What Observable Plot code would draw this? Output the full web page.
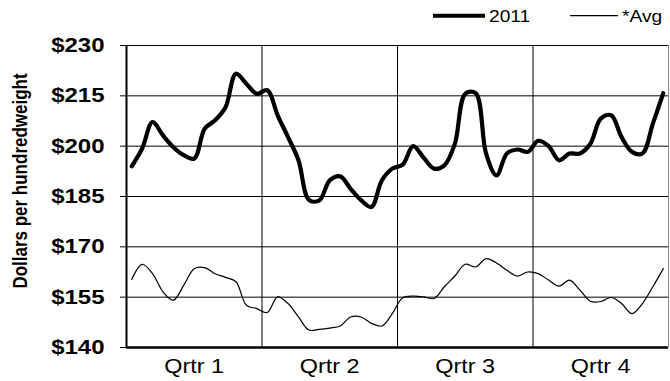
<!DOCTYPE html>
<html>
<head>
<meta charset="utf-8">
<script src="https://cdn.jsdelivr.net/npm/d3@7"></script>
<script src="https://cdn.jsdelivr.net/npm/@observablehq/plot@0.6"></script>
<style>
  html, body { margin: 0; padding: 0; background: #fff; }
  svg { display: block; }
  #chart { width: 670px; }
</style>
</head>
<body>
<div id="chart"></div>
<script>
// ---- data ----
const quarters = ["Qrtr 1", "Qrtr 2", "Qrtr 3", "Qrtr 4"];
const weeksPerQuarter = 13;
const yTicks = [140, 155, 170, 185, 200, 215, 230];
const seriesNames = ["2011", "*Avg"];
const price2011 = [
  194.0, 199.3, 207.2, 203.2, 199.7, 197.3, 196.3, 205.2, 207.7, 211.6, 221.6, 218.6, 215.6,
  216.7, 209.2, 202.7, 195.8, 184.0, 183.8, 189.8, 191.0, 187.3, 183.9, 181.9, 189.8, 193.3,
  194.5, 200.0, 196.6, 193.3, 194.3, 200.7, 215.6, 215.8, 197.8, 191.3, 197.8, 199.0, 198.3,
  201.6, 200.0, 195.8, 197.8, 197.8, 200.7, 208.2, 209.2, 202.7, 198.3, 197.8, 206.7, 215.8
];
const priceAvg = [
  160.3, 164.8, 162.0, 156.6, 154.1, 158.6, 163.5, 163.8, 162.0, 160.9, 159.6, 152.6, 151.6,
  150.4, 155.1, 153.1, 149.1, 145.2, 145.4, 145.8, 146.4, 149.1, 149.1, 147.2, 146.4, 150.1,
  154.8, 155.3, 155.1, 154.6, 158.1, 161.3, 164.8, 164.0, 166.5, 165.2, 163.0, 161.3, 162.5,
  162.0, 160.1, 158.3, 160.1, 157.1, 153.8, 153.7, 154.9, 153.1, 150.1, 153.1, 158.1, 163.5
];
const yTitle = "Dollars per hundredweight";

// ---- derived ----
const nWeeks = quarters.length * weeksPerQuarter;
const weekPos = (d, i) => i + 0.5;
const qCenters = quarters.map((q, i) => i * weeksPerQuarter + weeksPerQuarter / 2);
const qBounds = quarters.slice(1).map((q, i) => (i + 1) * weeksPerQuarter);
const FONT = "'Liberation Sans', Arial, Helvetica, sans-serif";

// ---- legend (above the svg) ----
const NS = "http://www.w3.org/2000/svg";
const leg = document.createElementNS(NS, "svg");
leg.setAttribute("width", 670);
leg.setAttribute("height", 30);
leg.setAttribute("font-family", FONT);
const legItems = [
  {name: seriesNames[0], x1: 433, x2: 485, tx: 489, w: 4},
  {name: seriesNames[1], x1: 570, x2: 618, tx: 622, w: 1.2}
];
for (const it of legItems) {
  const l = document.createElementNS(NS, "line");
  l.setAttribute("x1", it.x1); l.setAttribute("x2", it.x2);
  l.setAttribute("y1", 15.7); l.setAttribute("y2", 15.7);
  l.setAttribute("stroke", "black"); l.setAttribute("stroke-width", it.w);
  leg.appendChild(l);
  const t = document.createElementNS(NS, "text");
  t.setAttribute("transform", `translate(${it.tx},21.7) scale(1.2,1)`);
  t.setAttribute("font-size", 16);
  t.textContent = it.name;
  leg.appendChild(t);
}
document.getElementById("chart").appendChild(leg);

// ---- chart ----
const plot = Plot.plot({
  width: 670,
  height: 351,
  marginLeft: 126,
  marginRight: 2,
  marginTop: 15,
  marginBottom: 34,
  style: {fontFamily: FONT, background: "white", color: "black", overflow: "visible"},
  x: {domain: [0, nWeeks]},
  y: {domain: [140, 230]},
  marks: [
    Plot.ruleY(yTicks, {stroke: "black", strokeWidth: 1}),
    Plot.ruleX(qBounds, {stroke: "black", strokeWidth: 1}),
    Plot.ruleX([nWeeks], {stroke: "#888", strokeWidth: 1}),
    Plot.ruleX([0], {stroke: "black", strokeWidth: 2}),
    Plot.ruleY([140], {stroke: "black", strokeWidth: 2.5}),
    Plot.axisY(yTicks, {
      tickSize: 6, tickPadding: 16, fontSize: 20, fontWeight: "bold",
      tickFormat: d => "$" + d, label: null, stroke: "black"
    }),
    Plot.axisX(qCenters, {
      tickSize: 0, tickPadding: 12, fontSize: 19.5,
      tickFormat: d => quarters[Math.floor(d / weeksPerQuarter)], label: null
    }),
    Plot.line(priceAvg, {x: weekPos, y: d => d, curve: "catmull-rom", stroke: "black", strokeWidth: 1.2}),
    Plot.line(price2011, {x: weekPos, y: d => d, curve: "catmull-rom", stroke: "black", strokeWidth: 4.2, strokeLinejoin: "round", strokeLinecap: "round"}),
    Plot.text([yTitle], {
      frameAnchor: "left", text: d => d, rotate: -90, dx: -106, dy: -15.5,
      fontSize: 17, fontWeight: "bold", textAnchor: "middle", fill: "black"
    })
  ]
});
document.getElementById("chart").appendChild(plot);

// widen glyphs horizontally (the reference text is stretched ~1.2x in x)
plot.querySelectorAll("text").forEach(t => {
  const tr = t.getAttribute("transform");
  if (tr && /rotate/.test(tr)) {
    t.setAttribute("transform", tr + " scale(1,1.2)");
  } else if (tr) {
    t.setAttribute("transform", tr + " scale(1.2,1)");
  } else {
    const x = +t.getAttribute("x") || 0, y = +t.getAttribute("y") || 0;
    t.removeAttribute("x"); t.removeAttribute("y");
    t.setAttribute("transform", `translate(${x},${y}) scale(1.2,1)`);
  }
});
</script>
</body>
</html>
